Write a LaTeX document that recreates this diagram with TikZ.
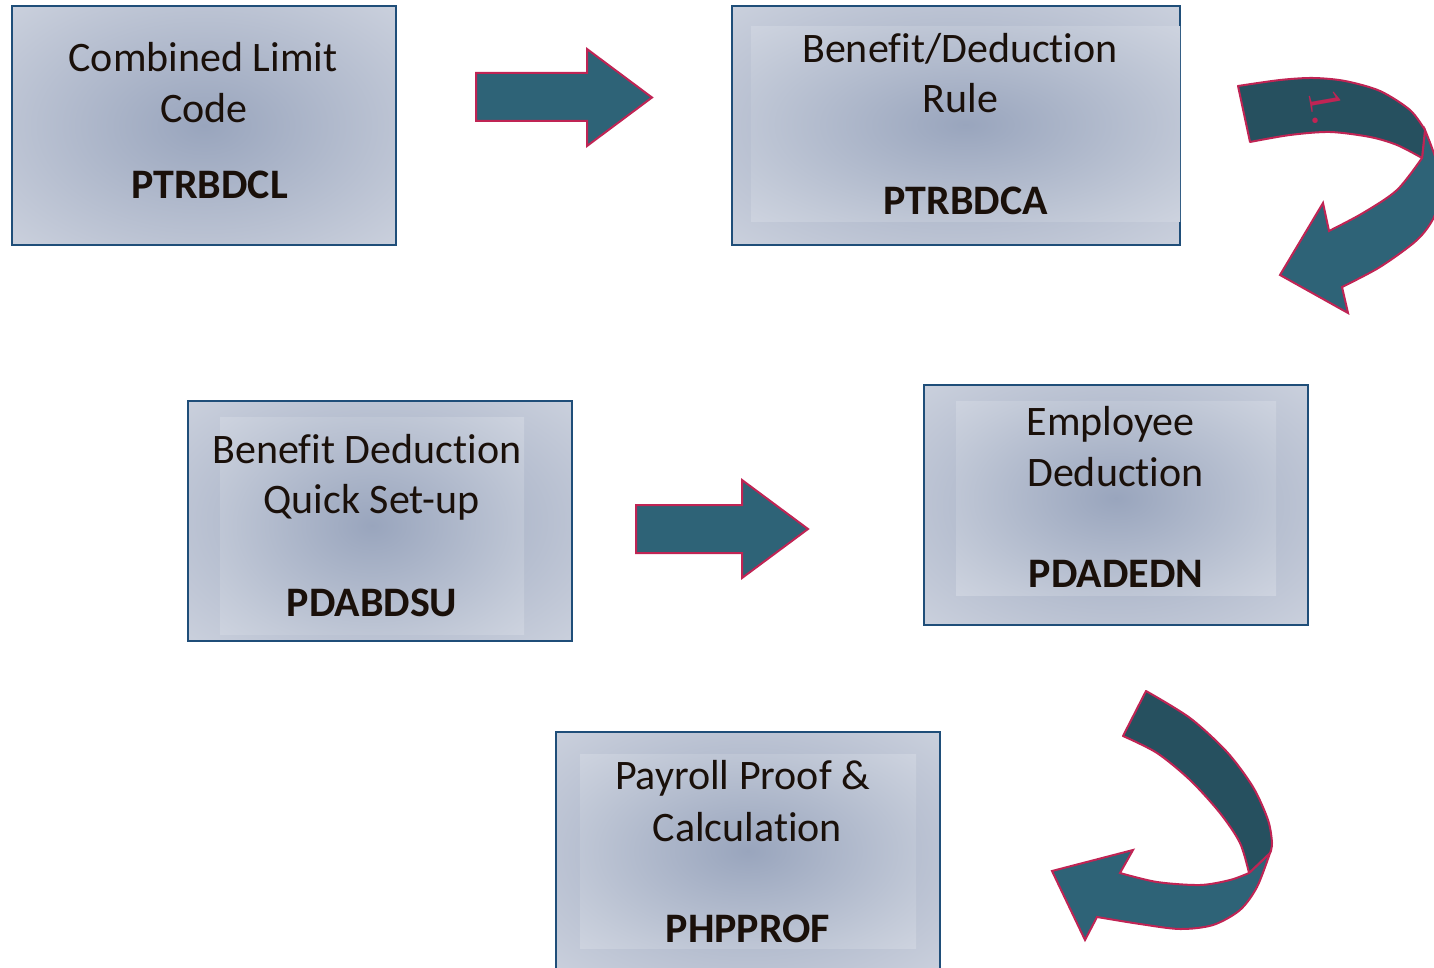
\documentclass[tikz,border=0pt]{standalone}
\usepackage{fontspec}
\setmainfont{Carlito}[Ligatures=NoCommon]
\newfontfamily\numfont{Liberation Serif}
\definecolor{boxborder}{RGB}{31,78,121}
\definecolor{shadein}{RGB}{153,165,189}
\definecolor{shademid}{RGB}{192,199,214}
\definecolor{shadeout}{RGB}{222,226,234}
\definecolor{innermid}{RGB}{195,202,216}
\definecolor{innerout}{RGB}{226,229,237}
\definecolor{arrowfill}{RGB}{46,99,119}
\definecolor{arrowdark}{RGB}{38,80,95}
\definecolor{arrowline}{RGB}{192,36,84}
\definecolor{txt}{RGB}{26,16,10}
\pgfdeclareradialshading{boxshade}{\pgfpoint{0bp}{0bp}}{color(0bp)=(shadein); color(28bp)=(shademid); color(50bp)=(shadeout)}
\pgfdeclareradialshading{innershade}{\pgfpoint{0bp}{0bp}}{color(0bp)=(shadein); color(28bp)=(innermid); color(50bp)=(innerout)}
\tikzset{
  outerbox/.style={draw=boxborder, line width=2.2pt, shading=boxshade, inner sep=0pt},
  innerbox/.style={shading=innershade, inner sep=0pt, draw=none},
  lbl/.style={anchor=base, font=\fontsize{42}{50}\selectfont, text=txt, inner sep=0pt},
  codelbl/.style={anchor=base, font=\fontsize{42}{50}\selectfont\bfseries, text=txt, inner sep=0pt},
  blockarrow/.style={fill=arrowfill, draw=arrowline, line width=2pt, line join=miter},
  darkarrow/.style={fill=arrowdark, draw=arrowline, line width=2pt, line join=round},
  lightarrow/.style={fill=arrowfill, draw=arrowline, line width=2pt, line join=miter}
}
\begin{document}
\begin{tikzpicture}[x=1pt,y=-1pt]
\useasboundingbox (0,0) rectangle (1434,968);
\clip (0,0) rectangle (1434,968);

% boxes
\node[outerbox, minimum width=384pt, minimum height=239pt] (b1) at (204,125.5) {};
\node[outerbox, minimum width=448pt, minimum height=239pt] (b2) at (956,125.5) {};
\node[innerbox, minimum width=429pt, minimum height=195pt] (b2i) at (965.5,124.5) {};
\node[outerbox, minimum width=384pt, minimum height=240pt] (b3) at (380,521) {};
\node[innerbox, minimum width=304pt, minimum height=217pt] (b3i) at (372,525.5) {};
\node[outerbox, minimum width=384pt, minimum height=240pt] (b4) at (1116,505) {};
\node[innerbox, minimum width=320pt, minimum height=194pt] (b4i) at (1116,498) {};
\node[outerbox, minimum width=384pt, minimum height=240pt] (b5) at (748,852) {};
\node[innerbox, minimum width=336pt, minimum height=194pt] (b5i) at (748,851) {};

% texts
\node[lbl] (t1a) at (203,72) {Combined Limit};
\node[lbl] (t1b) at (204,123) {Code};
\node[codelbl] (t1c) at (209.5,199) {PTRBDCL};

\node[lbl] (t2a) at (960,63) {Benefit/Deduction};
\node[lbl] (t2b) at (960.5,113) {Rule};
\node[codelbl] (t2c) at (965.5,215) {PTRBDCA};

\node[lbl] (t3a) at (367,463) {Benefit Deduction};
\node[lbl] (t3b) at (371.5,513) {Quick Set-up};
\node[codelbl] (t3c) at (372,616) {PDABDSU};

\node[lbl] (t4a) at (1110.5,435) {Employee};
\node[lbl] (t4b) at (1115.5,486) {Deduction};
\node[codelbl] (t4c) at (1116,587) {PDADEDN};

\node[lbl] (t5a) at (742.5,789) {Payroll Proof \&};
\node[lbl] (t5b) at (747.5,841) {Calculation};
\node[codelbl] (t5c) at (748,942) {PHPPROF};

% straight block arrows
\draw[blockarrow] (476,73) -- (587,73) -- (587,49) -- (652,97.5) -- (587,146) -- (587,121) -- (476,121) -- cycle;
\draw[blockarrow] (636,505) -- (742,505) -- (742,480) -- (808,529) -- (742,578) -- (742,553) -- (636,553) -- cycle;

% curved arrow top right
\draw[lightarrow] plot[smooth] coordinates {(1425,130) (1436,160) (1440,190) (1434,217) (1417,240) (1380,267) (1342,287)}
  -- (1348,313) -- (1280,275) -- (1323,203) -- (1329,231)
  -- plot[smooth] coordinates {(1329,231) (1363,213) (1397,190) (1422,158)} -- cycle;
\draw[darkarrow] (1238,86) -- (1250,142)
  -- plot[smooth] coordinates {(1250,142) (1290,135) (1330,132) (1370,137) (1397,145) (1422,158)}
  -- (1425,130)
  -- plot[smooth] coordinates {(1425,130) (1410,110) (1380,91) (1345,81) (1313,78) (1280,80) (1238,86)} -- cycle;
\node[rotate=-80, text=arrowline, font=\numfont\fontsize{46}{48}\selectfont, inner sep=0pt] (one) at (1326,107) {1.};

% curved arrow bottom right
\draw[lightarrow] plot[smooth] coordinates {(1270,853) (1257,887) (1240,910) (1213,925) (1180,929) (1140,924) (1097,917)}
  -- (1085,940) -- (1052,871) -- (1133,850) -- (1120,873)
  -- plot[smooth] coordinates {(1120,873) (1157,882) (1200,885) (1230,880) (1249,873)} -- cycle;
\draw[darkarrow] (1146,691) -- (1123,736)
  -- plot[smooth] coordinates {(1123,736) (1157,753) (1190,780) (1220,813) (1240,843) (1249,873)}
  -- (1270,853)
  -- plot[smooth] coordinates {(1270,853) (1272,843) (1268,820) (1253,787) (1227,752) (1190,718) (1146,691)} -- cycle;
\end{tikzpicture}
\end{document}
